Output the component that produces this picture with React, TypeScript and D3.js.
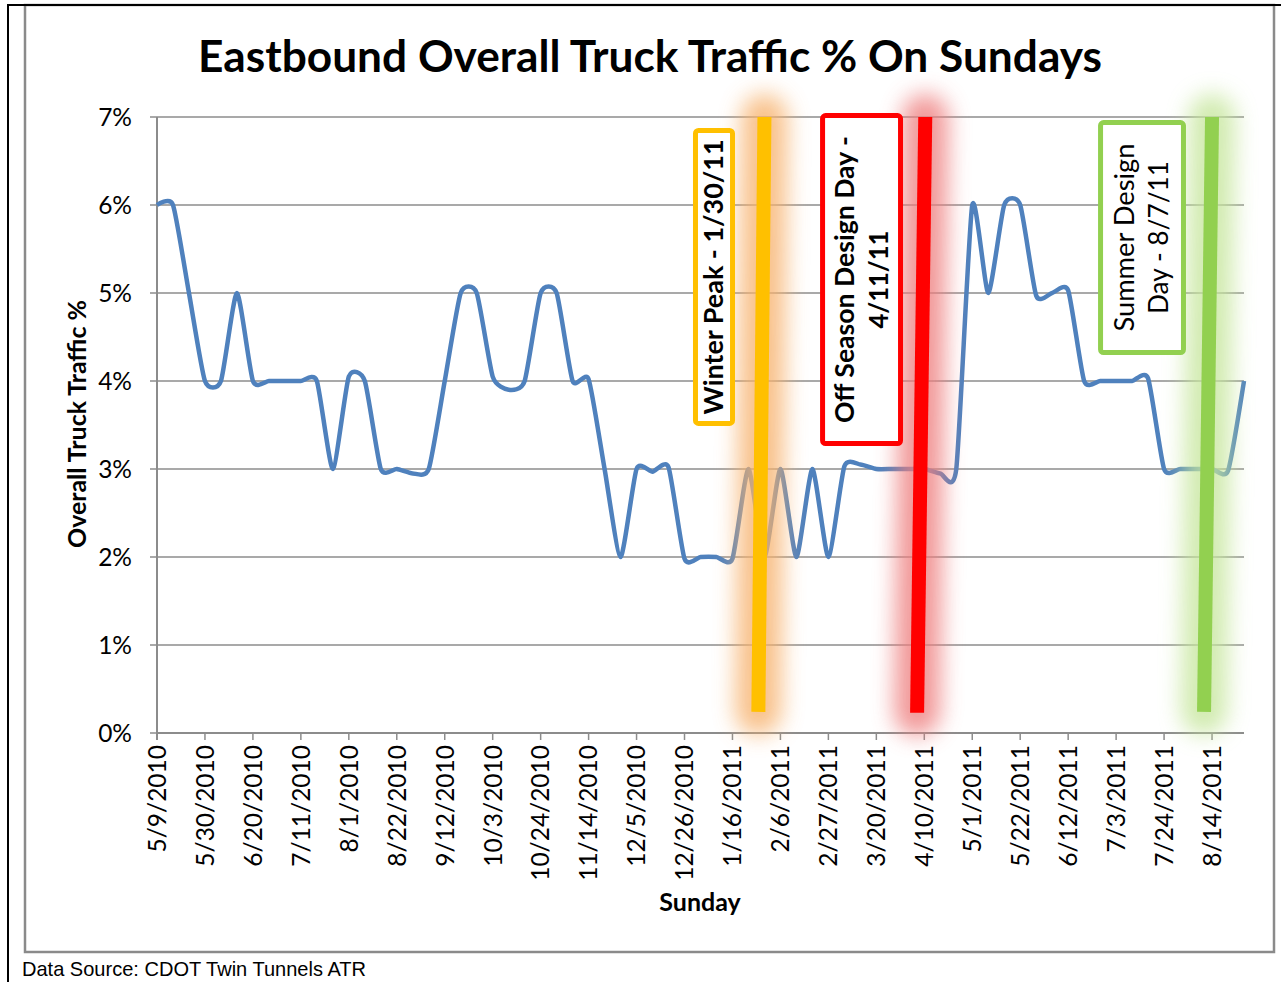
import React from 'react';
import { scaleLinear, line, curveCardinal, range } from 'd3';

// weekly Sunday truck share, 5/9/2010 .. 8/28/2011
const truckPct = [
  6.0, 6.0, 5.0, 4.0, 4.0, 5.0, 4.0, 4.0, 4.0, 4.0,
  4.0, 3.0, 4.05, 4.0, 3.0, 3.0, 2.95, 3.0, 4.0, 5.0,
  5.0, 4.05, 3.9, 4.0, 5.0, 5.0, 4.0, 4.02, 3.0, 2.0,
  3.0, 2.97, 3.02, 1.98, 2.0, 2.0, 1.98, 3.0, 2.0, 3.0,
  2.0, 3.0, 2.0, 3.03, 3.05, 3.0, 3.0, 3.0, 3.0, 2.95,
  3.0, 6.0, 5.0, 6.0, 6.0, 4.97, 5.0, 5.03, 4.0, 4.0,
  4.0, 4.0, 4.03, 3.0, 3.0, 3.0, 3.0, 2.98, 4.0,
];

const tickLabels = [
  '5/9/2010', '5/30/2010', '6/20/2010', '7/11/2010', '8/1/2010', '8/22/2010',
  '9/12/2010', '10/3/2010', '10/24/2010', '11/14/2010', '12/5/2010', '12/26/2010',
  '1/16/2011', '2/6/2011', '2/27/2011', '3/20/2011', '4/10/2011', '5/1/2011',
  '5/22/2011', '6/12/2011', '7/3/2011', '7/24/2011', '8/14/2011',
];
const tickEvery = 3;

const yTicks = [0, 1, 2, 3, 4, 5, 6, 7];

// marker lines: week index at top / bottom, value at bottom
const markerNames = ['winter', 'offseason', 'summer'];
const markerTopWeek = [38, 48.06, 66];
const markerBottomWeek = [37.62, 47.55, 65.5];
const markerBottomValue = [0.24, 0.23, 0.24];
const markerLabels = [
  ['Winter Peak - 1/30/11'],
  ['Off Season Design Day -', '4/11/11'],
  ['Summer Design', 'Day - 8/7/11'],
];
// label boxes in chart units: [weekLeft, weekRight], [valueTop, valueBottom]
const boxWeeks = [[33.53, 36.16], [41.48, 46.67], [58.87, 64.37]];
const boxValues = [[6.875, 3.49], [7.045, 3.26], [6.965, 4.295]];

const markerColor = ['#FFC000', '#FF0000', '#92D050'];
const glowColor = ['#F7B26E', '#EE7F7F', '#C6E69C'];
const labelWeight = [700, 700, 400];
const labelLength = [[275], [287, 98], [188, 153]];

const FONT = "Lato, 'Open Sans', sans-serif";

export default function App() {
  const W = 1281;
  const H = 982;
  const left = 157;
  const right = 1244;
  const top = 117;
  const bottom = 733;

  const x = scaleLinear().domain([0, truckPct.length - 1]).range([left, right]);
  const y = scaleLinear().domain([0, 7]).range([bottom, top]);

  const path = line<number>()
    .x((_, i) => x(i))
    .y((d) => y(d))
    .curve(curveCardinal.tension(0.4));

  const tickIdx = range(0, tickLabels.length).map((i) => i * tickEvery);

  return (
    <svg width={W} height={H} style={{ position: 'absolute', left: 0, top: 0, background: '#fff' }}>
      <defs>
        <filter id="glow" filterUnits="userSpaceOnUse" x={0} y={0} width={W} height={H}>
          <feGaussianBlur stdDeviation={11} />
        </filter>
      </defs>
      <rect width={W} height={H} fill="#fff" />

      {/* frame */}
      <rect x={25} y={5} width={1249} height={947} fill="none" stroke="#8a8a8a" strokeWidth={2.5} />
      <line x1={8} x2={W} y1={5} y2={5} stroke="#000" strokeWidth={2} />
      <line x1={8} x2={8} y1={4} y2={H} stroke="#000" strokeWidth={2} />

      <text x={650} y={72} textAnchor="middle" fontFamily={FONT} fontWeight={700} fontSize={44}
        textLength={904} lengthAdjust="spacingAndGlyphs">
        Eastbound Overall Truck Traffic % On Sundays
      </text>

      {/* grid + y axis */}
      {yTicks.map((t) => (
        <g key={t}>
          <line x1={left - 7} x2={t > 0 ? right : left} y1={y(t)} y2={y(t)} stroke="#8c8c8c" strokeWidth={1.5} />
          <text x={132} y={y(t)} dy="0.36em" textAnchor="end" fontFamily={FONT} fontSize={24.5} fill="#000">
            {t}%
          </text>
        </g>
      ))}
      <line x1={left} x2={left} y1={top} y2={bottom + 7} stroke="#8c8c8c" strokeWidth={2} />
      <line x1={left} x2={right} y1={bottom} y2={bottom} stroke="#8c8c8c" strokeWidth={2} />

      {/* x axis */}
      {tickIdx.map((k, i) => (
        <g key={k}>
          <line x1={x(k)} x2={x(k)} y1={bottom} y2={bottom + 7} stroke="#8c8c8c" strokeWidth={1.5} />
          <text transform={`translate(${x(k)},${bottom + 12}) rotate(-90)`} dy="0.36em" textAnchor="end"
            fontFamily={FONT} fontSize={24.5} fill="#000">
            {tickLabels[i]}
          </text>
        </g>
      ))}

      <text transform={`translate(86,424) rotate(-90)`} textAnchor="middle" fontFamily={FONT} fontWeight={700}
        fontSize={24} textLength={248} lengthAdjust="spacingAndGlyphs">
        Overall Truck Traffic %
      </text>
      <text x={700} y={911} textAnchor="middle" fontFamily={FONT} fontWeight={700} fontSize={25}>
        Sunday
      </text>

      {/* series */}
      <path d={path(truckPct) ?? ''} fill="none" stroke="#4F81BD" strokeWidth={4.5} strokeLinejoin="round" />

      {/* glows */}
      {markerNames.map((m, i) => (
        <line key={m + '-glow'} x1={x(markerTopWeek[i])} y1={y(7)} x2={x(markerBottomWeek[i])}
          y2={y(markerBottomValue[i])} stroke={glowColor[i]} strokeWidth={46} strokeLinecap="round"
          opacity={0.8} filter="url(#glow)" />
      ))}

      {/* markers */}
      {markerNames.map((m, i) => (
        <line key={m} x1={x(markerTopWeek[i])} y1={y(7)} x2={x(markerBottomWeek[i])}
          y2={y(markerBottomValue[i])} stroke={markerColor[i]} strokeWidth={14} />
      ))}

      {/* label boxes */}
      {markerNames.map((m, i) => {
        const x0 = x(boxWeeks[i][0]) + 2.5;
        const x1 = x(boxWeeks[i][1]) - 2.5;
        const y0 = y(boxValues[i][0]) + 2.5;
        const y1 = y(boxValues[i][1]) - 2.5;
        const cx = (x0 + x1) / 2;
        const cy = (y0 + y1) / 2;
        const lines = markerLabels[i];
        const gap = 34;
        return (
          <g key={m + '-box'}>
            <rect x={x0} y={y0} width={x1 - x0} height={y1 - y0} rx={3} fill="#fff"
              stroke={markerColor[i]} strokeWidth={5} />
            {lines.map((txt, j) => {
              const lx = cx + (j - (lines.length - 1) / 2) * gap;
              return (
                <text key={j} transform={`translate(${lx},${cy}) rotate(-90)`} dy="0.36em" textAnchor="middle"
                  fontFamily={FONT} fontWeight={labelWeight[i]} fontSize={26}
                  textLength={labelLength[i][j]} lengthAdjust="spacingAndGlyphs">
                  {txt}
                </text>
              );
            })}
          </g>
        );
      })}

      <text x={22} y={976} fontFamily="'Liberation Sans Narrow', 'Liberation Sans', Arial, sans-serif" fontSize={21}
        textLength={344} lengthAdjust="spacingAndGlyphs">
        Data Source: CDOT Twin Tunnels ATR
      </text>
    </svg>
  );
}
